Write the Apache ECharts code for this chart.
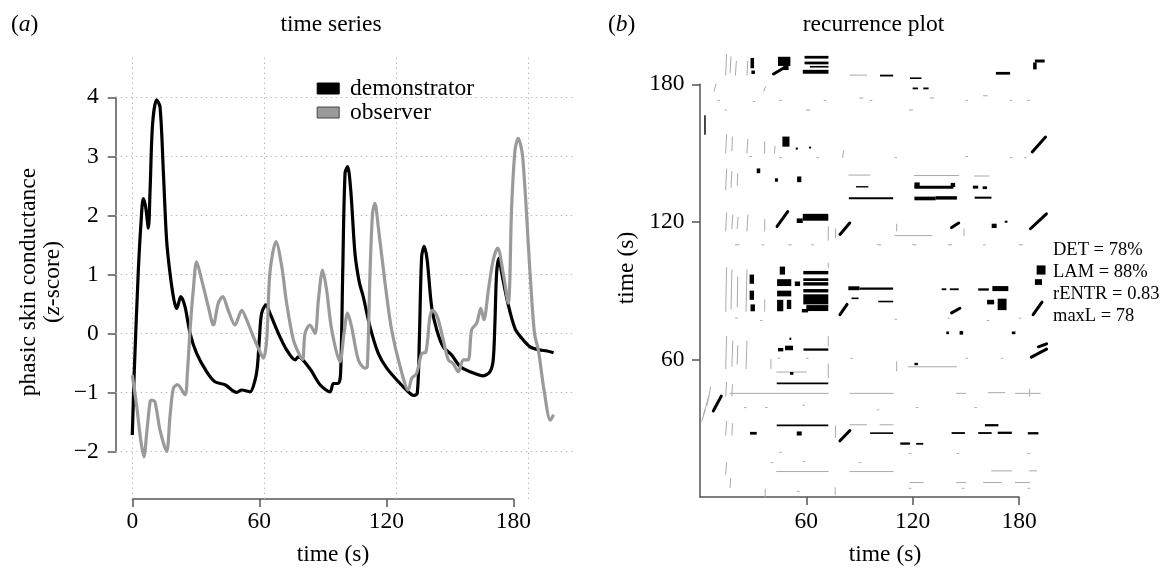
<!DOCTYPE html>
<html>
<head>
<meta charset="utf-8">
<script src="https://cdn.jsdelivr.net/npm/echarts@6/dist/echarts.min.js"></script>
<style>
html, body { margin: 0; padding: 0; background: #fff; }
#chart { width: 1161px; height: 569px; }
</style>
</head>
<body>
<div id="chart"></div>
<script>
// (a) time series: [time (s), z-score]
const demonstrator = [
  [0, -1.72], [0.9, -0.68], [2.8, 1.02], [4.1, 1.86], [5.2, 2.28], [6.3, 2.14], [7.6, 1.78], [8.4, 2.42],
  [9.6, 3.55], [11.5, 3.95], [13.1, 3.83], [14.7, 2.71], [16.2, 1.58], [17.8, 1.02], [19.7, 0.56], [21, 0.42],
  [22.9, 0.62], [24.9, 0.45], [27.3, 0], [30.4, -0.34], [35.1, -0.65], [39, -0.82], [43.8, -0.87], [49.3, -1.0],
  [51.7, -0.96], [55.6, -0.99], [58, -0.79], [59.1, -0.56], [60, -0.11], [61.1, 0.34], [63.2, 0.48], [65, 0.34],
  [69, 0], [72.9, -0.28], [76.9, -0.45], [78.4, -0.40], [83.9, -0.6], [88.7, -0.87], [93.4, -0.99], [95, -0.85],
  [97.3, -0.85], [98.4, -0.68], [99.4, 1.02], [100.5, 2.71], [101.7, 2.82], [103.2, 2.42], [105.2, 1.35],
  [107.2, 0.87], [109.1, 0.62], [112.3, 0.11], [116.2, -0.34], [120.2, -0.59], [126.5, -0.85], [130.4, -0.99],
  [132.8, -1.05], [134.6, -1.02], [135.6, -0.11], [136.7, 1.30], [137.9, 1.47], [139.3, 1.24], [141.4, 0.45],
  [143.8, 0.06], [146.9, -0.23], [150.9, -0.37], [154.8, -0.56], [159.5, -0.65], [165.8, -0.72], [169, -0.65],
  [170.5, -0.45], [171.3, 0.17], [172.1, 1.02], [173.2, 1.27], [174.5, 1.02], [177.6, 0.48], [180.8, 0.08],
  [183.9, -0.08], [187.9, -0.23], [192, -0.28], [196, -0.30], [199, -0.33]
];
const observer = [
  [0, -0.71], [2.1, -1.24], [4, -1.81], [5.5, -2.09], [6.8, -1.69], [8.4, -1.16], [9.2, -1.13], [10.7, -1.16],
  [13.1, -1.64], [16.2, -2.0], [17.8, -1.41], [19.4, -0.93], [21.3, -0.87], [24.9, -1.04], [26, -0.68], [27.3, 0.06],
  [28.8, 0.73], [30.4, 1.21], [32.8, 0.9], [35.9, 0.45], [38.3, 0.14], [40.6, 0.51], [42.7, 0.62], [45.3, 0.39],
  [48.5, 0.14], [51.7, 0.39], [54, 0.23], [57.2, -0.06], [59.5, -0.25], [61.9, -0.42], [63.5, -0.11], [65, 1.02],
  [67.9, 1.55], [70.6, 1.13], [72.9, 0.51], [76.1, -0.11], [79.2, -0.38], [80.5, -0.44], [81.6, 0], [83.9, 0.14],
  [86.3, 0], [87.9, 0.56], [89.9, 1.07], [91.8, 0.73], [94.2, 0.06], [98.1, -0.48], [100, 0], [101.7, 0.34],
  [103.6, 0.11], [106.8, -0.45], [109.9, -0.59], [111, -0.57], [112.3, 1.02], [113.5, 2.03], [114.6, 2.2],
  [116.2, 1.8], [119.4, 0.85], [122.5, 0.06], [126.5, -0.56], [130.4, -0.96], [132, -0.76], [134.3, -0.68],
  [136.7, -0.34], [138.7, -0.32], [140.6, 0.28], [141.9, 0.39], [144.1, 0.28], [146.9, -0.11], [149.3, -0.45],
  [151.6, -0.51], [154, -0.65], [156.4, -0.45], [158.7, -0.45], [160.3, 0.06], [162.7, 0.17], [164.6, 0.42],
  [166.1, 0.23], [168.2, 0.73], [170.5, 1.24], [172.6, 1.44], [175.2, 1.02], [177.6, 0.51], [179.2, 2.14],
  [180.8, 3.1], [182.3, 3.3], [184.4, 2.99], [187.9, 1.02], [190, 0], [191.9, -0.3], [194.5, -0.96],
  [197.5, -1.47], [199, -1.38]
];
// dotted reference grid of panel (a)
const gridTimes = [0, 62.35, 124.7, 187.05];
const gridValues = [-2, -1, 0, 1, 2, 3, 4];

// (b) recurrence plot, times in s
// solid recurrent patches: [x1, x2, y1, y2]
const rpBlocks = [
  [44, 51, 188, 192], [47, 50, 186.2, 188], [59, 72.5, 191.2, 192.4], [59, 72.5, 188.7, 189.9], [62, 72.5, 187.3, 188],
  [58, 72.5, 184.6, 186.3], [28.5, 30.5, 187, 191.5], [29, 31, 184.5, 186], [101.6, 109, 183.4, 184.2],
  [118.5, 125, 182.3, 183], [120, 123, 177.8, 178.6], [126, 129, 177.8, 178.6], [167, 175, 184.2, 185.4],
  [189, 194.5, 189.5, 190.8], [188, 190, 186.5, 189.5],
  [46.5, 50.5, 152.8, 157.2], [2.4, 3.2, 158, 166.5], [54, 55.2, 151.5, 152.4], [61.5, 62.7, 152, 152.8],
  [42.3, 44, 137.5, 139], [54.8, 57.2, 137.3, 139.8], [32, 34, 141.2, 143.3], [84, 109, 129.9, 130.7],
  [121, 133, 129.4, 131], [133, 145, 129.7, 131.2], [155, 164.5, 130.1, 131], [88, 95, 135, 135.6],
  [121, 143, 134.4, 135.8], [121, 124, 135.3, 137.2], [141.5, 144, 135.2, 137], [154, 157, 134.5, 135.8],
  [159.5, 162, 134.3, 135.5],
  [58, 72.4, 120.5, 123.5], [54.6, 58, 119.5, 121.5], [164.6, 167.4, 117.3, 119.2], [172, 173.5, 119.6, 120.5],
  [58.3, 72.4, 97.1, 98.6], [58.3, 72.4, 94.2, 95.4], [58.3, 72.4, 92.2, 93.7], [58.3, 72.4, 89.2, 90.7],
  [58.3, 72.4, 84, 88.4], [60, 72.4, 81.1, 83.7], [57.5, 61, 80.5, 82], [45, 48, 97, 100.5], [43.5, 51.5, 92, 95],
  [43.5, 51.5, 87.5, 90], [43.5, 47, 81, 86], [49, 51.5, 82, 86], [53.5, 56.5, 92, 94], [28, 30.5, 93, 97],
  [28, 30.5, 86, 90], [28.5, 31, 81, 84], [83.7, 90, 90.2, 91.9], [90, 109, 90.4, 91.4], [85.5, 89.5, 86.3, 87],
  [100.6, 109, 84.9, 85.6], [136.4, 139, 90.2, 91], [141, 146, 90.2, 91], [157, 163, 90, 91], [165, 174, 89.8, 92],
  [162, 166, 84, 86], [168, 173, 81.5, 86.5], [190, 195, 97, 101], [189, 193, 92.5, 95],
  [44, 47, 63.5, 65], [48, 52.5, 64, 66], [50.5, 51.5, 68.5, 69.5], [58.4, 72.4, 63.8, 64.8], [121, 123, 57.5, 58.5],
  [50.8, 52.7, 53.3, 54.5], [139, 140.5, 71, 72.2], [146.5, 148.5, 70.8, 72.4], [176, 178, 71, 72.2],
  [43.3, 72.4, 49.2, 49.9], [43.3, 72.4, 30.9, 31.6],
  [28.2, 32, 27.2, 28.4], [54.6, 57.4, 26.8, 28.6], [96, 109, 27.5, 28.2], [142, 149.5, 27.5, 28.3],
  [157, 164.6, 27.5, 28.3], [168, 176, 27.5, 28.5], [185, 191, 27.3, 28.3], [160.8, 168.4, 30.8, 31.8],
  [113, 118.5, 22.8, 23.8], [122, 126, 22.8, 23.6]
];
// diagonal recurrent strokes: [x1, y1, x2, y2]
const rpStrokes = [
  [187.5, 150.5, 195, 157], [43.5, 118, 49.5, 124.5], [79, 114.5, 84.5, 119.5], [142, 117.5, 146, 119.5],
  [186.5, 117, 195.5, 123.5], [79, 79.5, 83, 84], [142, 80.3, 146.7, 82.3], [188, 79.5, 193, 85],
  [187, 61, 195.6, 64.5], [191, 65.5, 195.6, 66.8], [79, 24.5, 84.6, 29], [7.5, 37.5, 12, 44], [41.5, 184.5, 47, 187]
];
// sparse recurrences: [x1, y1, x2, y2]
const rpFaint = [
  [14.5, 184, 15, 193], [17, 185, 17.5, 192], [20, 184, 20.5, 190], [14.5, 150, 15, 158], [18, 151, 18.3, 157],
  [14.5, 134, 15, 143], [17.5, 135, 18, 142], [21, 136, 21.3, 141], [14.5, 116, 15, 124], [18, 117, 18.5, 123],
  [21, 117, 21.5, 122], [14.5, 81, 15, 100], [17.5, 82, 18, 99], [21, 83, 21.3, 96], [14.5, 56, 15, 70],
  [18, 57, 18.5, 68], [21, 58, 21.3, 66], [14.5, 44, 15, 50], [18, 44, 18.3, 49], [14.5, 27, 15, 33],
  [18, 27, 18.3, 32], [14.5, 10, 15, 15], [17, 4, 17.3, 8],
  [26.5, 184, 27, 190], [26.5, 150, 27, 156], [26.5, 116, 27, 123], [26, 81, 26.5, 99], [26, 56, 26.5, 68],
  [72.4, 112, 72.4, 118], [72.4, 100, 72.4, 102], [72.4, 52, 72.4, 58], [72.4, 66, 72.4, 70], [80.5, 148, 81, 151],
  [36.8, 0, 36.8, 3.5], [76.3, 1, 76.3, 4], [42, 150, 42.3, 153],
  [2, 36, 5, 44], [4, 40, 6, 48], [1, 33, 3, 38],
  [84, 140.4, 96, 140.4], [121, 140.2, 146, 140.2], [155, 140, 163, 140], [110, 114, 131, 114], [84.6, 184, 94, 184],
  [117.6, 56.8, 144.8, 56.8], [16.9, 45.2, 72.4, 45.2], [84.6, 45.2, 109, 45.2], [162.7, 45.5, 172, 45.5],
  [144.8, 45.2, 150, 45.2], [178, 45.2, 192, 45.2], [84.6, 31.5, 94, 31.5], [101.6, 31.5, 109, 31.5],
  [43.3, 11.1, 72.4, 11.1], [84.6, 11.1, 109, 11.1], [164.6, 11.4, 175.9, 11.4], [186, 11.4, 190, 11.4],
  [118.5, 6.3, 126, 6.3], [144.8, 6.3, 150, 6.3], [160, 6.3, 170, 6.3], [178, 6.3, 186, 6.3],
  [20, 110, 22, 110], [35, 110, 36, 110], [50, 110, 51.5, 110], [63, 110, 64, 110], [100, 110, 102, 110],
  [120, 110, 122, 110], [140, 110, 142, 110], [160, 110, 161, 110], [180, 110, 182, 110],
  [8, 177, 9, 180], [36, 177, 37, 179], [90, 174, 92, 174], [130, 174, 132, 174], [160, 175, 162, 175],
  [10, 173, 11, 173], [30, 172.5, 31, 172.5], [45, 173, 46, 173], [70, 173, 71, 173], [96, 173, 97, 173],
  [150, 173, 151, 173], [175, 173, 176, 173], [185, 173, 186, 173], [14, 168.8, 15, 168.8], [60, 168.8, 62, 168.8],
  [118, 168.8, 120, 168.8], [28, 148.5, 29, 148.5], [45, 148, 46, 148], [66, 148, 67, 148], [110, 148, 111, 148],
  [150, 148.5, 151, 148.5], [175, 148, 176, 148], [183, 148, 184, 148], [20, 78, 21, 78], [34, 77, 35, 77],
  [110, 77.5, 111, 77.5], [140, 78, 141, 78], [162, 77, 163, 77], [180, 78, 181, 78], [44, 60.5, 45, 60.5],
  [60, 60.5, 61, 60.5], [85, 60.5, 86, 60.5], [150, 60.5, 151, 60.5], [170, 60.5, 171, 60.5], [43.3, 54.5, 60, 54.5],
  [25, 39, 26, 39], [37, 39, 38, 39], [58, 40, 59, 40], [100, 38, 101, 38], [122, 39, 123, 39], [155, 39, 156, 39],
  [118, 19, 119, 19], [145, 19, 146, 19], [185, 19, 186, 19], [45, 19.5, 46, 19.5], [40, 15, 41, 15],
  [58, 15.5, 59, 15.5], [90, 15, 91, 15], [118, 3.8, 119, 3.8], [148, 3.8, 149, 3.8], [185, 3.8, 186, 3.8],
  [55, 2.5, 56, 2.5], [36.5, 116, 36.5, 121], [36.5, 81, 36.5, 86], [36.5, 150, 36.5, 155], [40, 56, 40, 60],
  [76.5, 113, 76.5, 117], [76.5, 26, 76.5, 31], [111, 116, 111, 119], [111, 55, 111, 59], [149, 114, 149, 117],
  [186, 44, 186, 47]
];
const stats = ['DET = 78%', 'LAM = 88%', 'rENTR = 0.83', 'maxL = 78'];

const SERIF = '"Liberation Serif", "DejaVu Serif", serif';
const AXIS = '#555';

function axis(extra) {
  return Object.assign({
    type: 'value',
    axisLine: { show: true, onZero: false, lineStyle: { color: AXIS, width: 1.5 } },
    axisTick: { show: true, inside: false, length: 8, lineStyle: { color: AXIS, width: 1.5 } },
    splitLine: { show: false }
  }, extra);
}
function label(extra) {
  return Object.assign({ color: '#000', fontFamily: SERIF, fontSize: 23.5 }, extra);
}
function minus(v) {
  return v < 0 ? '\u2212' + Math.abs(v) : String(v);
}

function block(params, api) {
  const a = api.coord([api.value(0), api.value(3)]);
  const b = api.coord([api.value(1), api.value(2)]);
  return {
    type: 'rect',
    shape: { x: a[0], y: a[1], width: b[0] - a[0], height: Math.max(b[1] - a[1], 1.2) },
    style: { fill: '#000' }
  };
}
function segment(color, width) {
  return function (params, api) {
    const a = api.coord([api.value(0), api.value(1)]);
    const b = api.coord([api.value(2), api.value(3)]);
    return {
      type: 'line',
      shape: { x1: a[0], y1: a[1], x2: b[0], y2: b[1] },
      style: { stroke: color, lineWidth: width, lineCap: 'round' }
    };
  };
}
function text(x, y, str, opt) {
  opt = opt || {};
  return {
    type: 'text', x: x, y: y, rotation: opt.rot || 0, silent: true,
    style: {
      text: str, fill: '#000', fontFamily: SERIF, fontSize: opt.size || 23.5,
      align: opt.align || 'center', verticalAlign: opt.va || 'middle',
      lineHeight: opt.lh, rich: { i: { fontStyle: 'italic', fontFamily: SERIF, fontSize: opt.size || 23.5 } }
    }
  };
}

const chart = echarts.init(document.getElementById('chart'));
chart.setOption({
  animation: false,
  backgroundColor: '#fff',
  grid: [
    { left: 115.7, top: 55, width: 456.9, height: 444 },
    { left: 132.3, top: 97.3, width: 381, height: 354.7 },
    { left: 700, top: 47.6, width: 347.3, height: 449.4 },
    { left: 700, top: 84.3, width: 319, height: 412.7 }
  ],
  xAxis: [
    { type: 'value', gridIndex: 0, min: -7.84, max: 208, show: false },
    axis({ gridIndex: 1, min: 0, max: 180, interval: 60, offset: 47, axisLabel: label({ margin: 11 }) }),
    { type: 'value', gridIndex: 2, min: 0, max: 196, show: false },
    axis({ gridIndex: 3, min: 0, max: 180, interval: 60,
      axisTick: { show: true, length: 8, customValues: [60, 120, 180], lineStyle: { color: AXIS, width: 1.5 } },
      axisLabel: label({ margin: 13, showMinLabel: false }) })
  ],
  yAxis: [
    { type: 'value', gridIndex: 0, min: -2.804, max: 4.709, show: false },
    axis({ gridIndex: 1, min: -2, max: 4, interval: 1, offset: 16.6, axisLabel: label({ margin: 17, formatter: minus }) }),
    { type: 'value', gridIndex: 2, min: 0, max: 196, show: false },
    axis({ gridIndex: 3, min: 0, max: 180, interval: 60,
      axisTick: { show: true, length: 8, customValues: [60, 120, 180], lineStyle: { color: AXIS, width: 1.5 } },
      axisLabel: label({ margin: 15.5, showMinLabel: false }) })
  ],
  legend: {
    orient: 'vertical', left: 316.7, top: 76.5, padding: 0, itemGap: 0,
    itemWidth: 22, itemHeight: 11, icon: 'rect',
    formatter: function (name) { return ' ' + name; },
    textStyle: { color: '#000', fontFamily: SERIF, fontSize: 23.5, lineHeight: 22 },
    data: [
      { name: 'demonstrator', itemStyle: { color: '#000', borderColor: '#000', borderWidth: 1 } },
      { name: 'observer', itemStyle: { color: '#9a9a9a', borderColor: '#444', borderWidth: 1 } }
    ]
  },
  series: [
    {
      name: 'grid', type: 'line', xAxisIndex: 0, yAxisIndex: 0, data: [], silent: true, z: 1,
      markLine: {
        silent: true, z: 1, symbol: ['none', 'none'], label: { show: false }, animation: false,
        lineStyle: { color: '#bdbdbd', type: [1.5, 3.5], width: 1 },
        emphasis: { disabled: true },
        data: gridTimes.map(function (t) { return { xAxis: t }; })
          .concat(gridValues.map(function (v) { return { yAxis: v }; }))
      }
    },
    {
      name: 'demonstrator', type: 'line', xAxisIndex: 0, yAxisIndex: 0, data: demonstrator,
      symbol: 'none', smooth: 0.3, z: 3,
      lineStyle: { color: '#000', width: 3.2 }, itemStyle: { color: '#000' }
    },
    {
      name: 'observer', type: 'line', xAxisIndex: 0, yAxisIndex: 0, data: observer,
      symbol: 'none', smooth: 0.3, z: 4,
      lineStyle: { color: '#9a9a9a', width: 3.2 }, itemStyle: { color: '#9a9a9a' }
    },
    {
      type: 'custom', xAxisIndex: 2, yAxisIndex: 2, data: rpFaint, silent: true,
      encode: { x: [0, 2], y: [1, 3] }, renderItem: segment('#aaa', 1)
    },
    {
      type: 'custom', xAxisIndex: 2, yAxisIndex: 2, data: rpBlocks, silent: true,
      encode: { x: [0, 1], y: [2, 3] }, renderItem: block
    },
    {
      type: 'custom', xAxisIndex: 2, yAxisIndex: 2, data: rpStrokes, silent: true,
      encode: { x: [0, 2], y: [1, 3] }, renderItem: segment('#000', 3)
    }
  ],
  graphic: [
    text(11, 25, '({i|a})', { align: 'left' }),
    text(331, 25, 'time series'),
    text(608, 25, '({i|b})', { align: 'left' }),
    text(873.5, 25, 'recurrence plot'),
    text(333, 555, 'time (s)'),
    text(885, 555, 'time (s)'),
    text(29, 282, 'phasic skin conductance', { rot: Math.PI / 2 }),
    text(53, 282, '({i|z}-score)', { rot: Math.PI / 2 }),
    text(627, 268, 'time (s)', { rot: Math.PI / 2 }),
    text(1053, 238.5, stats.join('\n'), { align: 'left', va: 'top', size: 18.5, lh: 22.3 })
  ]
});
</script>
</body>
</html>
